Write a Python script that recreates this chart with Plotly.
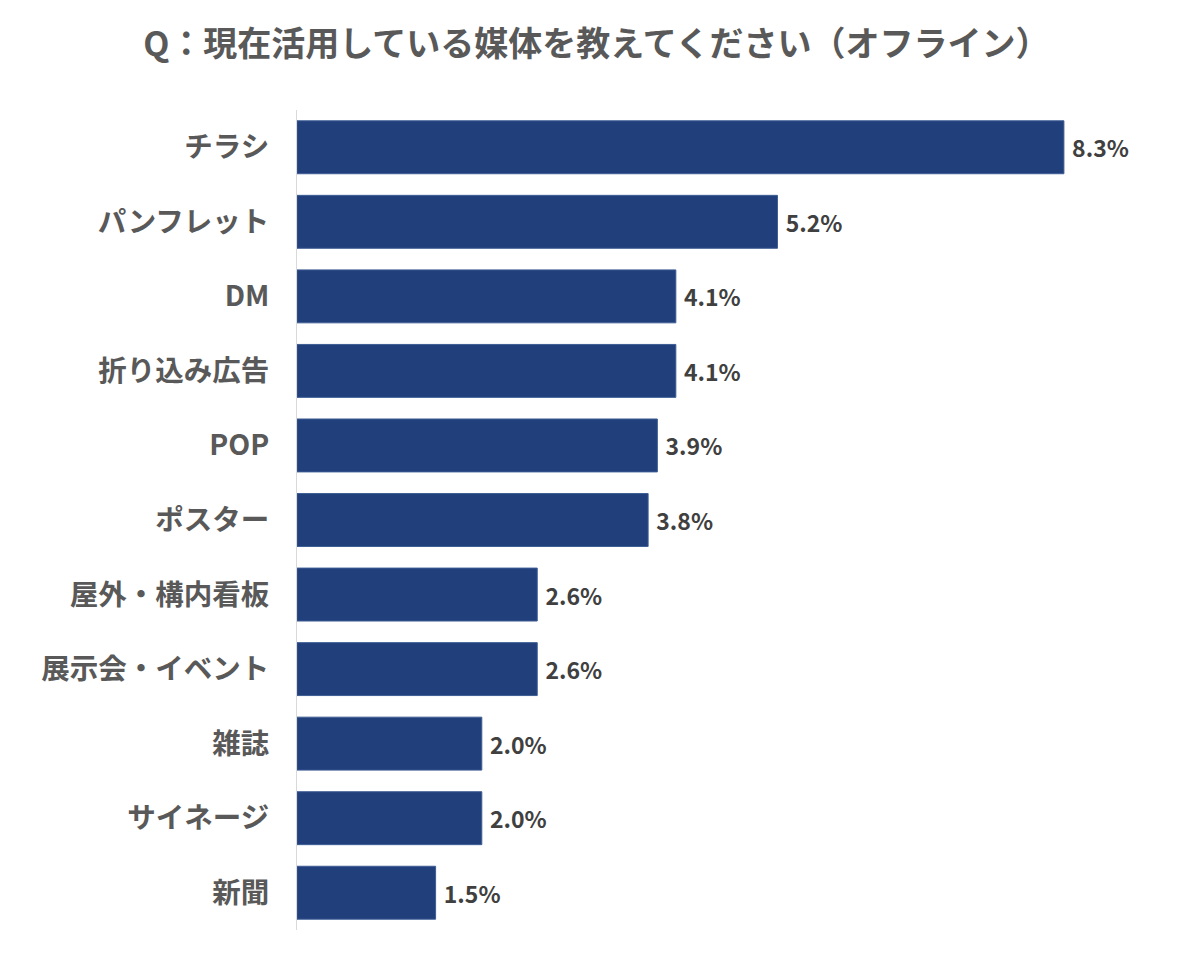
import plotly.graph_objects as go

categories = ["チラシ", "パンフレット", "DM", "折り込み広告", "POP", "ポスター",
              "屋外・構内看板", "展示会・イベント", "雑誌", "サイネージ", "新聞"]
values = [8.3, 5.2, 4.1, 4.1, 3.9, 3.8, 2.6, 2.6, 2.0, 2.0, 1.5]
labels = [f" <b>{v:.1f}%</b>" for v in values]

FONT = "Noto Sans CJK JP"

fig = go.Figure(go.Bar(
    x=values, y=categories, orientation="h",
    marker=dict(color="#203f7b", line=dict(color="#3d5d94", width=1)),
    text=labels, textposition="outside", cliponaxis=False,
    textfont=dict(family=FONT, size=23, color="#404040"),
))

fig.update_layout(
    width=1200, height=974,
    margin=dict(l=297, r=50, t=110, b=44),
    plot_bgcolor="white", paper_bgcolor="white",
    bargap=0.29,
    showlegend=False,
    title=dict(text="<b>Q：現在活用している媒体を教えてください（オフライン）</b>",
               x=0.497, xanchor="center", y=0.955, yanchor="middle",
               font=dict(family=FONT, size=34, color="#595959")),
    xaxis=dict(range=[0, 853 / 92.4], visible=False, fixedrange=True),
    yaxis=dict(autorange="reversed", showline=True, linecolor="#d9d9d9", linewidth=1,
               ticks="", ticklabelstandoff=21,
               tickfont=dict(family=FONT, size=28.5, color="#595959"),
               showgrid=False),
)
fig.update_yaxes(tickprefix="<b>", ticksuffix="</b>")

fig.write_html("out.html")
